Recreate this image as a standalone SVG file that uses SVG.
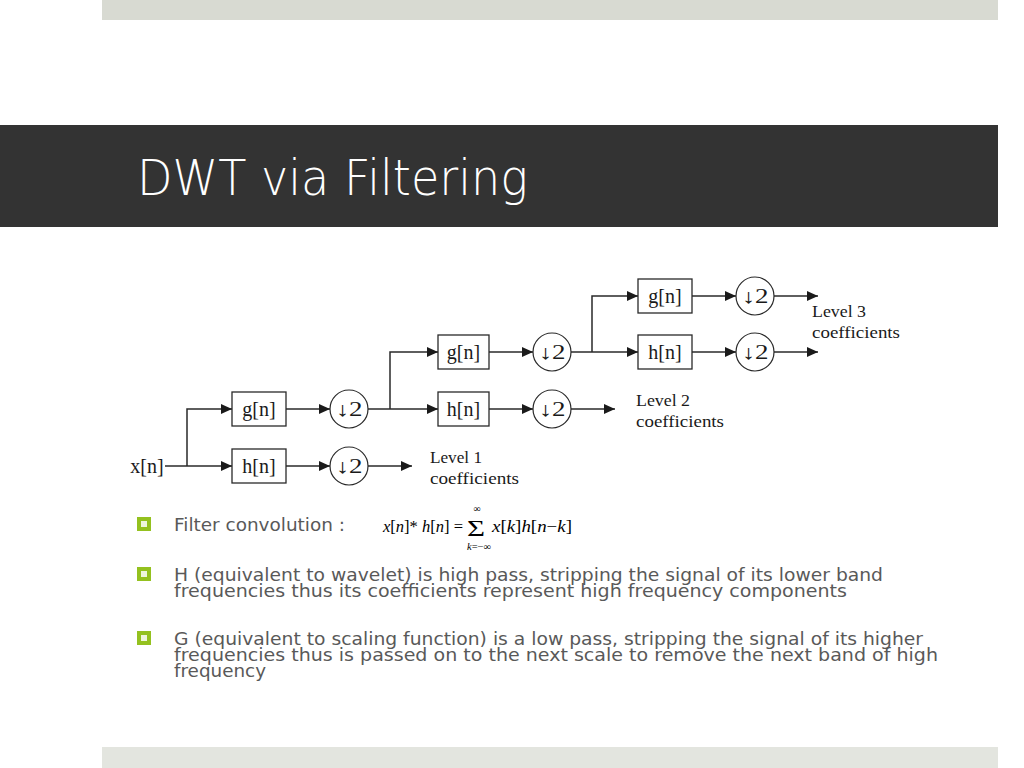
<svg xmlns="http://www.w3.org/2000/svg" width="1024" height="768" viewBox="0 0 1024 768">
<defs>
<style>
.bar{fill:#d8dad2}
.bar2{fill:#e3e5df}
.title{font-family:"DejaVu Sans","Liberation Sans",sans-serif;font-weight:200;font-size:49px;fill:#ffffff}
.body{font-family:"DejaVu Sans","Liberation Sans",sans-serif;font-size:17px;fill:#595959}
.box{fill:#ffffff;stroke:#2a2a2a;stroke-width:1.3}
.circ{fill:#ffffff;stroke:#2a2a2a;stroke-width:1.2}
.lbl{font-family:"Liberation Serif","Times New Roman",serif;font-size:20px;fill:#1a1a1a;text-anchor:middle}
.lvl{font-family:"Liberation Serif","Times New Roman",serif;font-size:16px;fill:#1a1a1a}
.wire{fill:none;stroke:#2a2a2a;stroke-width:1.5}
.arr{marker-end:url(#ah)}
.math{font-family:"Liberation Serif","Times New Roman",serif;font-size:16px;fill:#000}
.sig{font-family:"Liberation Serif","Times New Roman",serif;font-size:24px;fill:#000}
.lim{font-family:"Liberation Serif","Times New Roman",serif;font-size:10px;fill:#000}
.it{font-style:italic}
.bullet{fill:#eef5dc;stroke:#94c11f;stroke-width:4}
</style>
<marker id="ah" markerUnits="userSpaceOnUse" markerWidth="12" markerHeight="10" refX="11" refY="5" orient="auto">
<path d="M0,0 L11,5 L0,10 z" fill="#1a1a1a"/>
</marker>
</defs>
<rect width="1024" height="768" fill="#ffffff"/>
<rect class="bar" x="102" y="0" width="896" height="20"/>
<rect x="0" y="125" width="998" height="102" fill="#333333"/>
<rect class="bar2" x="102" y="747" width="896" height="21"/>
<text class="title" x="137" y="195" textLength="391" lengthAdjust="spacingAndGlyphs">DWT via Filtering</text>

<g id="connectors">
<path class="wire arr" d="M165 466 H232"/>
<path class="wire arr" d="M187 466 V409 H232"/>
<path class="wire arr" d="M286 409 H330"/>
<path class="wire arr" d="M286 466 H330"/>
<path class="wire arr" d="M368 466 H412"/>
<path class="wire arr" d="M368 409 H438"/>
<path class="wire arr" d="M390 409 V352 H438"/>
<path class="wire arr" d="M489 352 H533"/>
<path class="wire arr" d="M489 409 H533"/>
<path class="wire arr" d="M571 409 H615"/>
<path class="wire arr" d="M571 352 H638"/>
<path class="wire arr" d="M592 352 V296 H638"/>
<path class="wire arr" d="M692 296 H736"/>
<path class="wire arr" d="M692 352 H736"/>
<path class="wire arr" d="M774 296 H818"/>
<path class="wire arr" d="M774 352 H818"/>
</g>

<g id="input"><text class="lbl" x="147" y="473">x[n]</text></g>

<g id="g1"><rect class="box" x="232" y="392" width="54" height="34"/><text class="lbl" x="259" y="416">g[n]</text></g>
<g id="h1"><rect class="box" x="232" y="449" width="54" height="34"/><text class="lbl" x="259" y="473">h[n]</text></g>
<g id="d1"><circle class="circ" cx="349" cy="409" r="19"/><text class="lbl" x="349" y="416" textLength="27" lengthAdjust="spacingAndGlyphs">↓2</text></g>
<g id="d2"><circle class="circ" cx="349" cy="466" r="19"/><text class="lbl" x="349" y="473" textLength="27" lengthAdjust="spacingAndGlyphs">↓2</text></g>
<g id="level1"><text class="lvl" x="430" y="463" textLength="52" lengthAdjust="spacingAndGlyphs">Level 1</text><text class="lvl" x="430" y="484" textLength="89" lengthAdjust="spacingAndGlyphs">coefficients</text></g>

<g id="g2"><rect class="box" x="438" y="335" width="51" height="34"/><text class="lbl" x="463.5" y="359">g[n]</text></g>
<g id="h2"><rect class="box" x="438" y="392" width="51" height="34"/><text class="lbl" x="463.5" y="416">h[n]</text></g>
<g id="d3"><circle class="circ" cx="552" cy="352" r="19"/><text class="lbl" x="552" y="359" textLength="27" lengthAdjust="spacingAndGlyphs">↓2</text></g>
<g id="d4"><circle class="circ" cx="552" cy="409" r="19"/><text class="lbl" x="552" y="416" textLength="27" lengthAdjust="spacingAndGlyphs">↓2</text></g>
<g id="level2"><text class="lvl" x="636" y="406" textLength="54" lengthAdjust="spacingAndGlyphs">Level 2</text><text class="lvl" x="636" y="427" textLength="88" lengthAdjust="spacingAndGlyphs">coefficients</text></g>

<g id="g3"><rect class="box" x="638" y="279" width="54" height="34"/><text class="lbl" x="665" y="303">g[n]</text></g>
<g id="h3"><rect class="box" x="638" y="335" width="54" height="34"/><text class="lbl" x="665" y="359">h[n]</text></g>
<g id="d5"><circle class="circ" cx="755" cy="296" r="19"/><text class="lbl" x="755" y="303" textLength="27" lengthAdjust="spacingAndGlyphs">↓2</text></g>
<g id="d6"><circle class="circ" cx="755" cy="352" r="19"/><text class="lbl" x="755" y="359" textLength="27" lengthAdjust="spacingAndGlyphs">↓2</text></g>
<g id="level3"><text class="lvl" x="812" y="317" textLength="54" lengthAdjust="spacingAndGlyphs">Level 3</text><text class="lvl" x="812" y="338" textLength="88" lengthAdjust="spacingAndGlyphs">coefficients</text></g>

<g id="bullets">
<rect class="bullet" x="139" y="519" width="10" height="10"/>
<rect class="bullet" x="139" y="569" width="10" height="10"/>
<rect class="bullet" x="139" y="633" width="10" height="10"/>
<text class="body" x="174" y="531" textLength="171" lengthAdjust="spacingAndGlyphs">Filter convolution :</text>
<text class="body" x="174" y="581" textLength="709" lengthAdjust="spacingAndGlyphs">H (equivalent to wavelet) is high pass, stripping the signal of its lower band</text>
<text class="body" x="174" y="597" textLength="673" lengthAdjust="spacingAndGlyphs">frequencies thus its coefficients represent high frequency components</text>
<text class="body" x="174" y="645" textLength="749" lengthAdjust="spacingAndGlyphs">G (equivalent to scaling function) is a low pass, stripping the signal of its higher</text>
<text class="body" x="174" y="661" textLength="764" lengthAdjust="spacingAndGlyphs">frequencies thus is passed on to the next scale to remove the next band of high</text>
<text class="body" x="174" y="677" textLength="92" lengthAdjust="spacingAndGlyphs">frequency</text>
</g>

<g id="formula">
<text class="math" x="383" y="532" textLength="80" lengthAdjust="spacingAndGlyphs"><tspan class="it">x</tspan>[<tspan class="it">n</tspan>]* <tspan class="it">h</tspan>[<tspan class="it">n</tspan>] =</text>
<text class="sig" x="467" y="536" textLength="18" lengthAdjust="spacingAndGlyphs">Σ</text>
<text class="lim" x="477" y="512" text-anchor="middle">∞</text>
<text class="lim" x="467" y="550" textLength="24" lengthAdjust="spacingAndGlyphs"><tspan class="it">k</tspan>=−∞</text>
<text class="math" x="492" y="532" textLength="80" lengthAdjust="spacingAndGlyphs"><tspan class="it">x</tspan>[<tspan class="it">k</tspan>]<tspan class="it">h</tspan>[<tspan class="it">n</tspan>−<tspan class="it">k</tspan>]</text>
</g>
</svg>
